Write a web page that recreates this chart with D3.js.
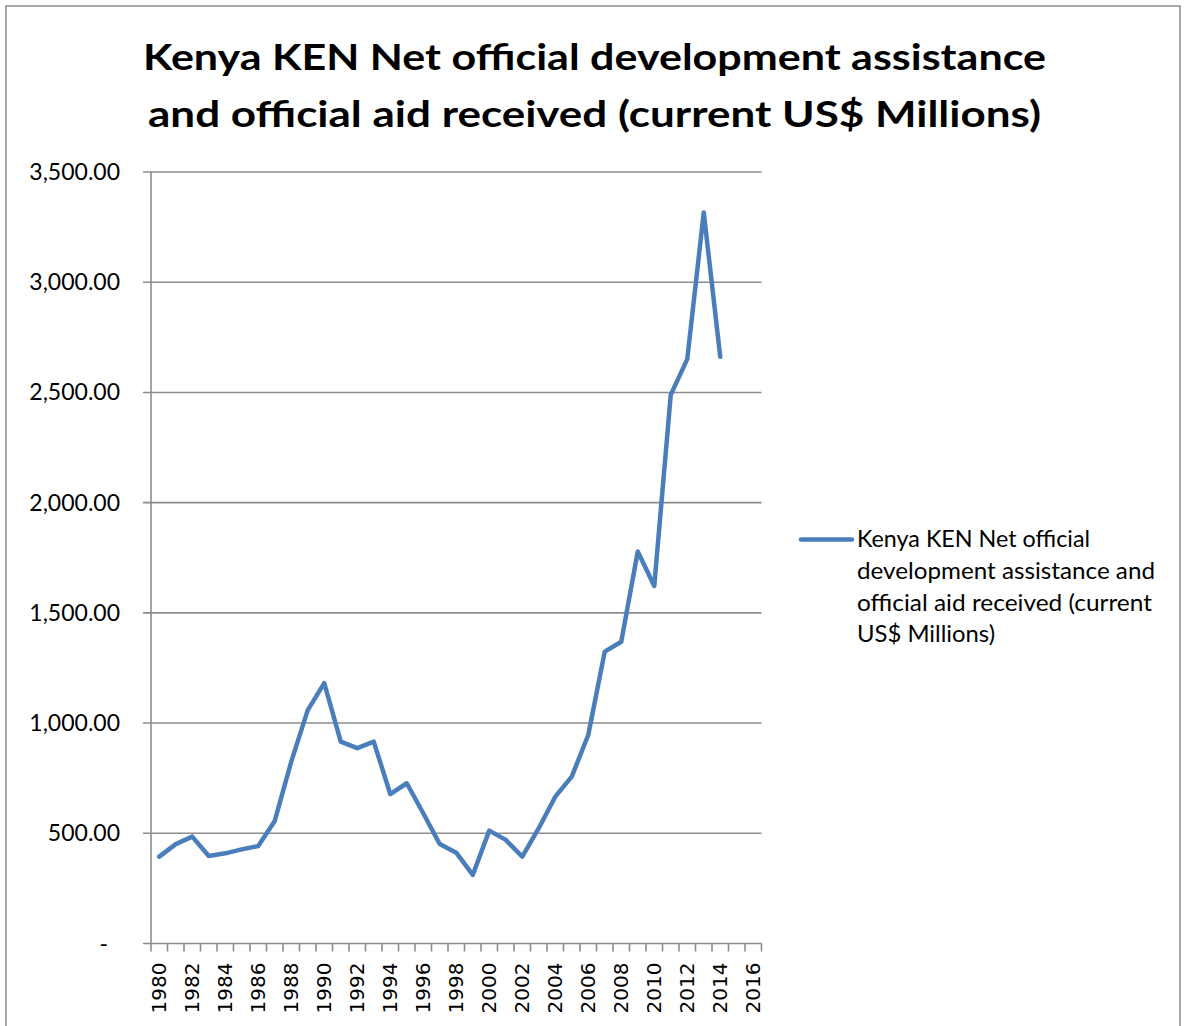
<!DOCTYPE html>
<html>
<head>
<meta charset="utf-8">
<script src="https://cdn.jsdelivr.net/npm/d3@7"></script>
<style>
  html, body { margin: 0; padding: 0; background: #fff; }
  svg { display: block; }
</style>
</head>
<body>
<svg id="chart" width="1184" height="1026"></svg>
<script>
// Net official development assistance and official aid received, Kenya (current US$ millions)
const years = d3.range(1980, 2017).map(String);
const dataYears = d3.range(1980, 2015).map(String);
const odaValues = [
  394, 451, 485, 397, 409, 427, 442, 556, 825, 1059,
  1181, 916, 886, 916, 678, 727, 591, 451, 412, 311,
  512, 470, 394, 523, 666, 757, 946, 1324, 1369, 1778,
  1622, 2489, 2651, 3316, 2662
];
const yTicks = [0, 500, 1000, 1500, 2000, 2500, 3000, 3500];
const xLabelYears = years.filter((d, i) => i % 2 === 0);
const titleLines = [
  "Kenya KEN Net official development assistance",
  "and official aid received (current US$ Millions)"
];
const legendLines = [
  "Kenya KEN Net official",
  "development assistance and",
  "official aid received (current",
  "US$ Millions)"
];

const svg = d3.select("#chart");
const W = 1184, H = 1026;
const plot = { left: 151, right: 761.5, top: 172, bottom: 943.5 };
const lineColor = "#4a7ebb";
const gridColor = "#8c8c8c";
const calibriLike = "Lato, 'Open Sans', sans-serif";

// chart frame
svg.append("rect")
  .attr("x", 6).attr("y", 6)
  .attr("width", 1174).attr("height", H + 10)
  .attr("fill", "#fff")
  .attr("stroke", gridColor).attr("stroke-width", 1.5);

// title
const title = svg.append("g").attr("font-family", calibriLike)
  .attr("font-weight", "bold").attr("font-size", 37).attr("fill", "#000");
title.selectAll("text").data(titleLines).join("text")
  .attr("x", 594.5)
  .attr("y", (d, i) => 70 + i * 57)
  .attr("text-anchor", "middle")
  .attr("textLength", (d, i) => i === 0 ? 903 : 893)
  .attr("lengthAdjust", "spacingAndGlyphs")
  .text(d => d);

// scales
const x = d3.scaleBand().domain(years).range([plot.left, plot.right]).padding(0);
const y = d3.scaleLinear().domain([0, 3500]).range([plot.bottom, plot.top]);

// horizontal gridlines (extend left as major ticks)
svg.append("g").selectAll("line").data(yTicks.filter(d => d > 0)).join("line")
  .attr("x1", plot.left - 8).attr("x2", plot.right)
  .attr("y1", d => y(d)).attr("y2", d => y(d))
  .attr("stroke", gridColor).attr("stroke-width", 1.6);

// y axis line
svg.append("line")
  .attr("x1", plot.left).attr("x2", plot.left)
  .attr("y1", plot.top).attr("y2", plot.bottom)
  .attr("stroke", gridColor).attr("stroke-width", 1.6);

// y tick labels
const fmt = d3.format(",.2f");
svg.append("g").attr("font-family", calibriLike).attr("font-size", 23).attr("fill", "#000")
  .selectAll("text").data(yTicks).join("text")
  .attr("x", d => d === 0 ? 108 : 120)
  .attr("y", d => y(d))
  .attr("dy", "0.35em")
  .attr("text-anchor", "end")
  .text(d => d === 0 ? "-" : fmt(d));

// x axis: baseline, category tick marks, rotated year labels
const xAxis = d3.axisBottom(x)
  .tickValues(xLabelYears)
  .tickSize(0)
  .tickFormat(d => d);
const xg = svg.append("g")
  .attr("transform", `translate(0,${plot.bottom})`)
  .call(xAxis);
xg.select(".domain").remove();
xg.selectAll("text")
  .attr("font-family", "'DejaVu Sans', sans-serif")
  .attr("font-size", 20)
  .attr("fill", "#000")
  .attr("transform", "rotate(-90)")
  .attr("x", -19)
  .attr("y", 0)
  .attr("dy", "0.36em")
  .attr("text-anchor", "end");

svg.append("line")
  .attr("x1", plot.left - 8).attr("x2", plot.right)
  .attr("y1", plot.bottom).attr("y2", plot.bottom)
  .attr("stroke", gridColor).attr("stroke-width", 1.6);

const boundaries = years.map(d => x(d)).concat([x(years[years.length - 1]) + x.bandwidth()]);
svg.append("g").selectAll("line").data(boundaries).join("line")
  .attr("x1", d => d).attr("x2", d => d)
  .attr("y1", plot.bottom).attr("y2", plot.bottom + 8)
  .attr("stroke", gridColor).attr("stroke-width", 1.6);

// data line
const series = dataYears.map((yr, i) => ({ year: yr, value: odaValues[i] }));
const line = d3.line()
  .x(d => x(d.year) + x.bandwidth() / 2)
  .y(d => y(d.value));
svg.append("path")
  .datum(series)
  .attr("d", line)
  .attr("fill", "none")
  .attr("stroke", lineColor)
  .attr("stroke-width", 4.5)
  .attr("stroke-linejoin", "round")
  .attr("stroke-linecap", "round");

// legend
const legendWidths = [233, 298, 295, 138];
const legend = svg.append("g");
legend.append("line")
  .attr("x1", 801).attr("x2", 852)
  .attr("y1", 539.5).attr("y2", 539.5)
  .attr("stroke", lineColor).attr("stroke-width", 4.5)
  .attr("stroke-linecap", "round");
legend.append("g").attr("font-family", calibriLike).attr("font-size", 22.5).attr("fill", "#000")
  .selectAll("text").data(legendLines).join("text")
  .attr("x", 857)
  .attr("y", (d, i) => 539.5 + i * 31.7)
  .attr("dy", "0.35em")
  .attr("textLength", (d, i) => legendWidths[i])
  .attr("lengthAdjust", "spacingAndGlyphs")
  .text(d => d);
</script>
</body>
</html>
